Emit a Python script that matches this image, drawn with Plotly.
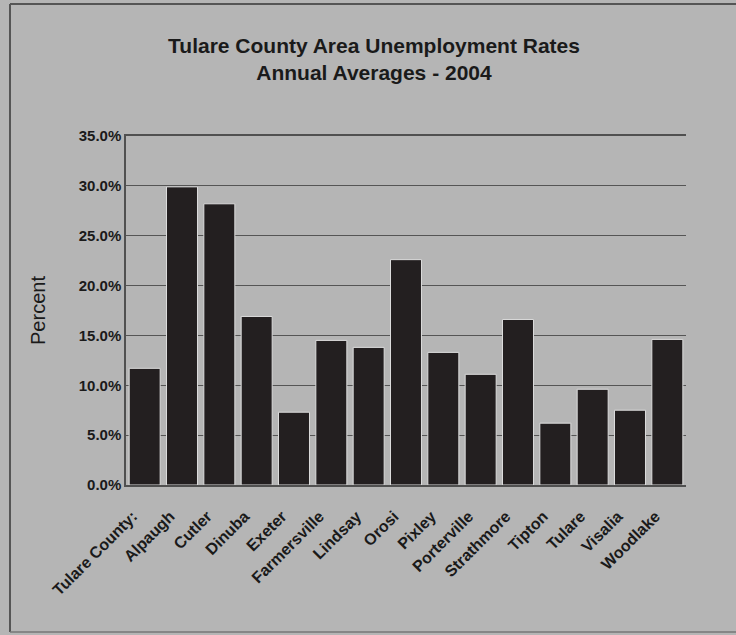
import plotly.graph_objects as go

categories = ["Tulare County:", "Alpaugh", "Cutler", "Dinuba", "Exeter", "Farmersville",
              "Lindsay", "Orosi", "Pixley", "Porterville", "Strathmore", "Tipton",
              "Tulare", "Visalia", "Woodlake"]
rates = [11.7, 29.9, 28.2, 16.9, 7.3, 14.5, 13.8, 22.6, 13.3, 11.1, 16.6, 6.2, 9.6, 7.5, 14.6]
y_ticks = [0, 5, 10, 15, 20, 25, 30, 35]
y_tick_labels = ["0.0%", "5.0%", "10.0%", "15.0%", "20.0%", "25.0%", "30.0%", "35.0%"]

W, H = 736, 635
ml, mr, mt, mb = 126, 50, 136, 150
pw, ph = W - ml - mr, H - mt - mb


def px(x):
    return (x - ml) / pw


def py(y):
    return (H - mb - y) / ph


fig = go.Figure()
fig.add_trace(go.Bar(
    x=categories, y=rates,
    marker=dict(color="#231f20", line=dict(color="#dcdcdc", width=1)),
    hoverinfo="x+y",
))

bg = "#b5b5b5"
fig.update_layout(
    width=W, height=H,
    margin=dict(l=ml, r=mr, t=mt, b=mb),
    paper_bgcolor=bg, plot_bgcolor=bg,
    showlegend=False,
    bargap=0.17,
    font=dict(family="Liberation Sans, Arial, sans-serif", color="#1a1a1a"),
    title=dict(
        text="<b>Tulare County Area Unemployment Rates<br>Annual Averages - 2004</b>",
        x=374 / W, xanchor="center", y=1 - 53 / H, yanchor="top",
        font=dict(size=21, color="#1a1a1a"),
    ),
    xaxis=dict(
        tickangle=-45,
        tickvals=categories, ticktext=["<b>%s</b>" % c for c in categories],
        tickfont=dict(size=16, color="#1a1a1a"),
        ticklabelstandoff=14, ticklabelshift=-12,
        showline=True, linecolor="#505050", linewidth=1.5, ticks="",
        mirror=True,
        showgrid=False,
    ),
    yaxis=dict(
        range=[0, 35], tickvals=y_ticks, ticktext=["<b>%s</b>" % t for t in y_tick_labels],
        tickfont=dict(size=15, color="#1a1a1a"),
        showgrid=True, gridcolor="#555555", gridwidth=1,
        showline=True, linecolor="#505050", linewidth=1.5,
        ticks="", ticklen=0,
        title=dict(text="Percent", font=dict(size=20, color="#1a1a1a"), standoff=28),
        zeroline=False,
    ),
    shapes=[
        dict(type="line", xref="paper", yref="paper",
             x0=px(10), x1=px(736), y0=py(4), y1=py(4),
             line=dict(color="#555555", width=2)),
        dict(type="line", xref="paper", yref="paper",
             x0=px(10), x1=px(10), y0=py(632), y1=py(4),
             line=dict(color="#555555", width=2)),
        dict(type="line", xref="paper", yref="paper",
             x0=px(10), x1=px(736), y0=py(632), y1=py(632),
             line=dict(color="#777777", width=1.5)),
    ],
)

fig.write_html("out.html")
